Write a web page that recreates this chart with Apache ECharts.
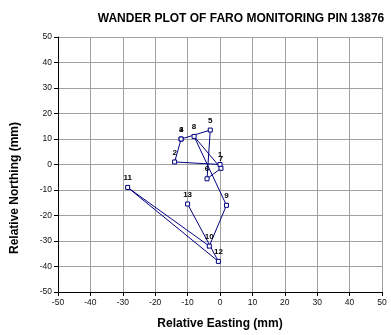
<!DOCTYPE html>
<html>
<head>
<meta charset="utf-8">
<script src="https://cdn.jsdelivr.net/npm/echarts@6/dist/echarts.min.js"></script>
<style>html,body{margin:0;padding:0;background:#fff}#c{width:391px;height:335px}</style>
</head>
<body>
<div id="c"></div>
<script>
var pointLabels = ['1','2','3','4','5','6','7','8','9','10','11','12','13'];
var easting = [0, -14, -12, -12, -3, -4, 0.3, -8, 2, -3.3, -28.5, -0.5, -10];
var northing = [0, 1, 10, 10, 13.5, -5.6, -1.5, 11, -16, -32, -9, -38, -15.5];
var axisTicks = [-50, -40, -30, -20, -10, 0, 10, 20, 30, 40, 50];

var data = pointLabels.map(function (n, i) { return [easting[i], northing[i], n]; });
var font = 'Liberation Sans, Arial, sans-serif';

var chart = echarts.init(document.getElementById('c'), null, {renderer: 'canvas'});
chart.setOption({
  animation: false,
  title: {
    text: 'WANDER PLOT OF FARO MONITORING PIN 13876',
    left: 236, top: 8, textAlign: 'center',
    textStyle: {fontFamily: font, fontSize: 12, fontWeight: 'bold', color: '#000'}
  },
  grid: {left: 58, right: 9, top: 37, bottom: 43, containLabel: false},
  xAxis: {
    type: 'value', min: axisTicks[0], max: axisTicks[axisTicks.length - 1], interval: 10,
    name: 'Relative Easting (mm)', nameLocation: 'middle', nameGap: 26,
    nameTextStyle: {fontFamily: font, fontSize: 12, fontWeight: 'bold', color: '#000'},
    axisLine: {onZero: false, lineStyle: {color: '#000', width: 1}},
    axisTick: {inside: false, length: 4, lineStyle: {color: '#000'}},
    axisLabel: {fontFamily: font, fontSize: 8.5, color: '#111', margin: 6},
    splitLine: {show: true, lineStyle: {color: '#a0a0a0', width: 1}}
  },
  yAxis: {
    type: 'value', min: axisTicks[0], max: axisTicks[axisTicks.length - 1], interval: 10,
    axisLine: {show: true, onZero: false, lineStyle: {color: '#000', width: 1}},
    axisTick: {show: true, inside: false, length: 4, lineStyle: {color: '#000'}},
    axisLabel: {fontFamily: font, fontSize: 8.5, color: '#111', margin: 6},
    splitLine: {show: true, lineStyle: {color: '#a0a0a0', width: 1}}
  },
  graphic: [{
    type: 'text', x: 15, y: 188, rotation: Math.PI / 2,
    style: {text: 'Relative Northing (mm)', font: 'bold 12px ' + font, fill: '#000', align: 'center', verticalAlign: 'middle'}
  }],
  series: [{
    type: 'line',
    data: data,
    symbol: 'rect', symbolSize: 4,
    lineStyle: {color: '#000080', width: 1},
    itemStyle: {color: '#fff', borderColor: '#000080', borderWidth: 1},
    label: {
      show: true, position: 'top', distance: 3,
      formatter: function (p) { return p.data[2]; },
      fontFamily: font, fontSize: 8, fontWeight: 'bold', color: '#000'
    },
    emphasis: {disabled: true}
  }]
});
</script>
</body>
</html>
